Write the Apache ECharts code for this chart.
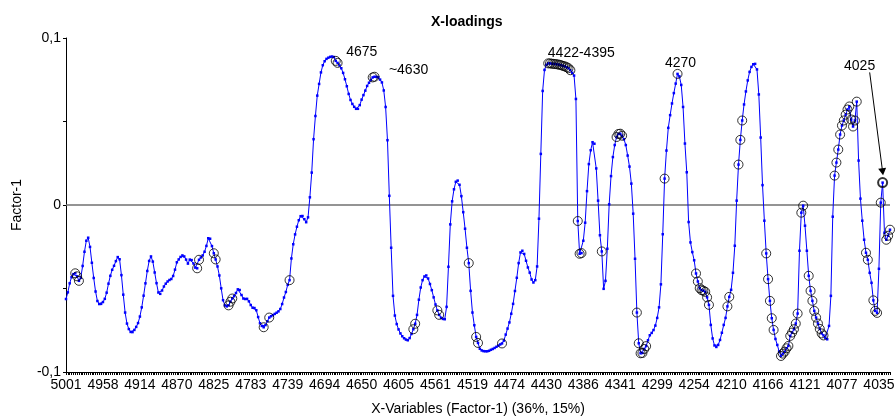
<!DOCTYPE html>
<html><head><meta charset="utf-8">
<script src="https://cdn.jsdelivr.net/npm/echarts@6/dist/echarts.min.js"></script>
<style>html,body{margin:0;padding:0;background:#fff}#c{width:895px;height:418px}</style>
</head><body><div id="c"></div>
<script>
// x tick labels (wavenumbers), one every 20 variables
const tickLabels = ['5001','4958','4914','4870','4825','4783','4739','4694','4650','4605','4561','4519','4474','4430','4386','4341','4299','4254','4210','4166','4121','4077','4035'];
const labelEvery = 20;

// Factor-1 loadings, one per X-variable
const loadings = [
-0.0563,-0.0523,-0.0469,-0.0432,-0.0414,-0.0409,-0.0427,-0.0454,-0.0436,-0.0365,-0.0280,-0.0214,-0.0196,-0.0251,-0.0346,-0.0437,-0.0518,-0.0575,-0.0593,-0.0592,
-0.0581,-0.0562,-0.0525,-0.0471,-0.0424,-0.0388,-0.0364,-0.0336,-0.0312,-0.0325,-0.0420,-0.0537,-0.0644,-0.0710,-0.0743,-0.0760,-0.0761,-0.0748,-0.0730,-0.0707,
-0.0668,-0.0613,-0.0543,-0.0469,-0.0395,-0.0335,-0.0308,-0.0339,-0.0404,-0.0468,-0.0524,-0.0532,-0.0512,-0.0488,-0.0471,-0.0458,-0.0449,-0.0443,-0.0425,-0.0387,
-0.0343,-0.0326,-0.0311,-0.0302,-0.0308,-0.0327,-0.0351,-0.0327,-0.0330,-0.0350,-0.0375,-0.0379,-0.0328,-0.0314,-0.0302,-0.0280,-0.0245,-0.0199,-0.0202,-0.0246,
-0.0289,-0.0326,-0.0368,-0.0422,-0.0499,-0.0570,-0.0601,-0.0607,-0.0601,-0.0579,-0.0560,-0.0546,-0.0527,-0.0505,-0.0509,-0.0539,-0.0560,-0.0563,-0.0562,-0.0577,
-0.0599,-0.0615,-0.0617,-0.0630,-0.0671,-0.0708,-0.0724,-0.0732,-0.0719,-0.0696,-0.0674,-0.0666,-0.0659,-0.0652,-0.0645,-0.0637,-0.0623,-0.0593,-0.0554,-0.0521,
-0.0478,-0.0450,-0.0320,-0.0235,-0.0176,-0.0130,-0.0091,-0.0067,-0.0066,-0.0085,-0.0103,-0.0074,0.0046,0.0194,0.0394,0.0533,0.0655,0.0725,0.0794,0.0837,
0.0861,0.0875,0.0882,0.0887,0.0889,0.0886,0.0863,0.0851,0.0836,0.0819,0.0791,0.0753,0.0711,0.0665,0.0629,0.0605,0.0588,0.0576,0.0576,0.0598,
0.0631,0.0658,0.0685,0.0713,0.0732,0.0748,0.0764,0.0768,0.0767,0.0765,0.0751,0.0734,0.0686,0.0587,0.0388,0.0055,-0.0256,-0.0544,-0.0662,-0.0713,
-0.0745,-0.0769,-0.0786,-0.0798,-0.0806,-0.0810,-0.0797,-0.0772,-0.0744,-0.0711,-0.0658,-0.0567,-0.0494,-0.0450,-0.0428,-0.0422,-0.0440,-0.0473,-0.0510,-0.0553,
-0.0596,-0.0631,-0.0658,-0.0675,-0.0682,-0.0684,-0.0610,-0.0370,-0.0116,0.0022,0.0094,0.0139,0.0146,0.0121,0.0053,-0.0043,-0.0142,-0.0256,-0.0348,-0.0514,
-0.0644,-0.0720,-0.0790,-0.0826,-0.0861,-0.0871,-0.0875,-0.0876,-0.0876,-0.0873,-0.0867,-0.0862,-0.0856,-0.0849,-0.0842,-0.0835,-0.0829,-0.0812,-0.0776,-0.0740,
-0.0703,-0.0651,-0.0592,-0.0515,-0.0436,-0.0348,-0.0284,-0.0274,-0.0293,-0.0334,-0.0374,-0.0405,-0.0446,-0.0464,-0.0450,-0.0368,-0.0082,0.0306,0.0683,0.0809,
0.0840,0.0848,0.0848,0.0846,0.0845,0.0844,0.0842,0.0840,0.0837,0.0833,0.0830,0.0825,0.0819,0.0807,0.0792,0.0775,0.0635,-0.0096,-0.0292,-0.0288,
-0.0214,-0.0106,0.0083,0.0245,0.0328,0.0376,0.0367,0.0219,0.0026,-0.0181,-0.0278,-0.0502,-0.0454,-0.0262,0.0004,0.0173,0.0287,0.0359,0.0407,0.0425,
0.0427,0.0415,0.0394,0.0359,0.0296,0.0230,0.0128,-0.0052,-0.0322,-0.0644,-0.0828,-0.0888,-0.0886,-0.0862,-0.0845,-0.0810,-0.0780,-0.0766,-0.0749,-0.0722,
-0.0676,-0.0613,-0.0475,-0.0175,0.0158,0.0326,0.0462,0.0538,0.0608,0.0670,0.0727,0.0785,0.0770,0.0719,0.0587,0.0368,0.0196,-0.0102,-0.0224,-0.0282,
-0.0331,-0.0410,-0.0458,-0.0498,-0.0510,-0.0513,-0.0520,-0.0553,-0.0598,-0.0718,-0.0799,-0.0841,-0.0850,-0.0838,-0.0808,-0.0765,-0.0718,-0.0676,-0.0607,-0.0550,
-0.0508,-0.0406,-0.0244,0.0026,0.0242,0.0390,0.0506,0.0602,0.0680,0.0746,0.0797,0.0827,0.0843,0.0845,0.0812,0.0662,0.0404,0.0119,-0.0094,-0.0290,
-0.0444,-0.0574,-0.0678,-0.0748,-0.0802,-0.0838,-0.0877,-0.0904,-0.0890,-0.0878,-0.0858,-0.0844,-0.0784,-0.0764,-0.0744,-0.0710,-0.0650,-0.0274,-0.0046,-0.0004,
-0.0124,-0.0274,-0.0424,-0.0514,-0.0574,-0.0634,-0.0674,-0.0710,-0.0742,-0.0769,-0.0781,-0.0796,-0.0804,-0.0724,-0.0544,-0.0070,0.0176,0.0254,0.0332,0.0422,
0.0476,0.0506,0.0541,0.0572,0.0590,0.0512,0.0470,0.0506,0.0619,0.0266,0.0038,-0.0094,-0.0208,-0.0286,-0.0328,-0.0406,-0.0466,-0.0571,-0.0634,-0.0646,
-0.0382,0.0014,0.0134,-0.0166,-0.0208,-0.0184,-0.0148
];

// indices of the circled (marked) variables
const circled = [5,6,7,71,72,80,81,88,89,90,107,110,121,146,147,166,167,188,189,201,202,218,222,223,236,
261,262,263,264,265,266,267,268,269,270,271,272,273,277,278,279,290,298,299,300,301,309,310,311,312,313,314,324,331,
341,342,343,344,345,346,347,348,358,359,364,365,366,379,380,381,382,383,387,388,389,390,391,392,393,394,395,396,398,399,
402,403,404,405,406,407,408,409,410,416,417,418,419,420,421,422,423,424,425,426,427,428,433,434,437,438,439,441,442,444,445,446];

// annotation texts and the variable each one refers to
const annotationTexts = ['4675','~4630','4422-4395','4270','4025'];
const annotationAt = [146,167,267,331,442];
const arrowTarget = 442;

const categories = loadings.map((_, i) => String(i));

const FONT = 'Liberation Sans, Arial, sans-serif';
const labelOffsets = [[26,-9],[34,-7],[22,-12],[3,-11],[-23,-116]];

const chart = echarts.init(document.getElementById('c'), null, {renderer:'canvas'});
chart.setOption({
  animation: false,
  backgroundColor: '#fff',
  textStyle: {fontFamily: FONT},
  title: {
    text: 'X-loadings', left: 426, top: 10,
    textStyle: {fontSize: 14, fontWeight: 'bold', color: '#000', fontFamily: FONT}
  },
  grid: {left: 66, right: 5, top: 38, bottom: 46, containLabel: false, outerBoundsMode: 'none'},
  xAxis: {
    type: 'category', data: categories, boundaryGap: false,
    name: 'X-Variables (Factor-1) (36%, 15%)', nameLocation: 'middle', nameGap: 30,
    nameTextStyle: {fontSize: 14, color: '#000', fontFamily: FONT},
    axisLine: {show: true, onZero: false, lineStyle: {color: '#000', width: 1}},
    axisTick: {show: true, interval: 0, length: 3, lineStyle: {color: '#000', width: 1}},
    axisLabel: {
      interval: labelEvery - 1, margin: 6, fontSize: 14, color: '#000', fontFamily: FONT,
      formatter: (v, idx) => idx % labelEvery === 0 ? (tickLabels[idx / labelEvery] || '') : ''
    },
    splitLine: {show: false}
  },
  yAxis: {
    type: 'value', min: -0.1, max: 0.1, interval: 0.05,
    name: 'Factor-1', nameLocation: 'middle', nameGap: 42, nameRotate: 90,
    nameTextStyle: {fontSize: 14, color: '#000', fontFamily: FONT},
    axisLine: {show: true, lineStyle: {color: '#000', width: 1}},
    axisTick: {show: true, length: 3, lineStyle: {color: '#000'}},
    axisLabel: {
      margin: 5, fontSize: 14, color: '#000', fontFamily: FONT,
      formatter: v => {
        if (Math.abs(v) < 1e-9) return '0';
        if (Math.abs(Math.abs(v) - 0.1) < 1e-9) return (v < 0 ? '-' : '') + '0,1';
        return '';
      }
    },
    splitLine: {show: false}
  },
  series: [
    {
      name: 'loadings', type: 'line', data: loadings,
      showSymbol: true, showAllSymbol: true, symbol: 'rect', symbolSize: 2.5,
      itemStyle: {color: '#0000ff'},
      lineStyle: {color: '#0000ff', width: 1},
      z: 2,
      markLine: {
        silent: true, symbol: 'none', label: {show: false},
        lineStyle: {color: '#707070', width: 1.5, type: 'solid'},
        data: [{yAxis: 0}],
        z: 1
      }
    },
    {
      name: 'circled', type: 'scatter',
      data: circled.map(i => ({
        value: [i, loadings[i]],
        itemStyle: i === arrowTarget ? {borderWidth: 2} : undefined
      })),
      symbol: 'circle', symbolSize: 9,
      itemStyle: {color: 'rgba(0,0,0,0)', borderColor: '#000', borderWidth: 1},
      z: 3,
      markPoint: {
        silent: true,
        symbol: 'circle', symbolSize: 1,
        itemStyle: {color: 'rgba(0,0,0,0)'},
        data: annotationTexts.map((t, k) => ({
          coord: [annotationAt[k], loadings[annotationAt[k]]],
          value: t,
          label: {show: true, position: 'inside', offset: labelOffsets[k], formatter: t,
                  color: '#000', fontSize: 14, fontFamily: FONT}
        }))
      },
      markLine: {
        silent: true, label: {show: false},
        lineStyle: {color: '#000', width: 1, type: 'solid'},
        data: [[
          {coord: [arrowTarget - 7, loadings[arrowTarget] + 0.066], symbol: 'none'},
          {coord: [arrowTarget, loadings[arrowTarget] + 0.0065], symbol: 'triangle', symbolSize: [8, 7]}
        ]]
      }
    }
  ]
});
</script></body></html>
